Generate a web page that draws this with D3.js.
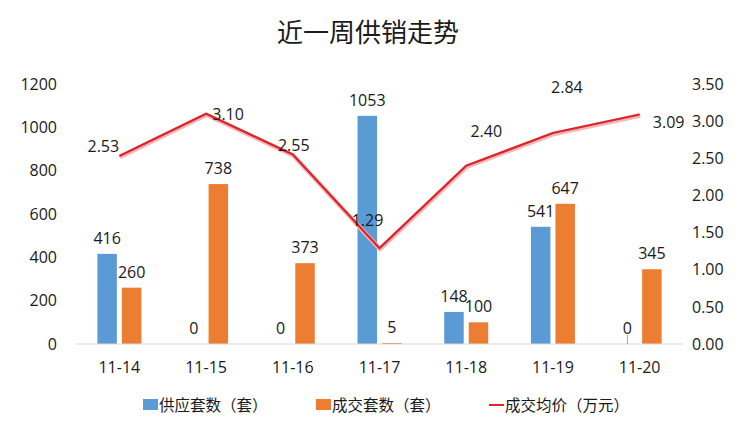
<!DOCTYPE html>
<html lang="zh">
<head>
    <meta charset="UTF-8">
    <title>近一周供销走势</title>
    <style>
        body {
            margin: 0;
            padding: 0;
            background: #ffffff;
        }
        svg text {
            font-family: "Open Sans", "Noto Sans CJK SC", sans-serif;
            fill: #1a1a1a;
        }
        svg text.cjk {
            font-family: "Noto Sans CJK SC", sans-serif;
        }
    </style>
</head>
<body>
    <svg id="chart" width="740" height="426"></svg>

    <script src="https://d3js.org/d3.v7.min.js"></script>
    <script>
        // data
        var dates = ['11-14', '11-15', '11-16', '11-17', '11-18', '11-19', '11-20'];
        var supply = [416, 0, 0, 1053, 148, 541, 0];       // 供应套数（套）
        var deals = [260, 738, 373, 5, 100, 647, 345];     // 成交套数（套）
        var price = [2.53, 3.10, 2.55, 1.29, 2.40, 2.84, 3.09]; // 成交均价（万元）
        var leftTicks = [0, 200, 400, 600, 800, 1000, 1200];
        var rightTicks = [0, 0.5, 1, 1.5, 2, 2.5, 3, 3.5];

        // price labels were moved around by hand in the original
        var priceLabelShift = [[-16, -10], [22, 1], [1, -9], [-12, -28], [20, -34], [14, -46], [29, 8]];

        var svg = d3.select('#chart');
        var plot = { left: 76, right: 683, top: 84, bottom: 344 };

        var x = d3.scaleBand()
            .domain(dates)
            .range([plot.left, plot.right]);

        var yLeft = d3.scaleLinear()
            .domain([0, 1200])
            .range([plot.bottom, plot.top]);

        var yRight = d3.scaleLinear()
            .domain([0, 3.5])
            .range([plot.bottom, plot.top]);

        var barW = 19.5, gap = 5;
        var blue = '#5b9bd5', orange = '#ed7d31', red = '#dc2328';

        // title
        svg.append('text')
            .attr('class', 'cjk')
            .attr('x', 368)
            .attr('y', 42)
            .attr('text-anchor', 'middle')
            .style('font-size', '26px')
            .text('近一周供销走势');

        // left axis labels
        svg.append('g')
            .selectAll('text')
            .data(leftTicks)
            .join('text')
            .attr('x', 57)
            .attr('y', d => yLeft(d))
            .attr('dy', '0.36em')
            .attr('text-anchor', 'end')
            .style('font-size', '16px')
            .text(d => d);

        // right axis labels
        svg.append('g')
            .selectAll('text')
            .data(rightTicks)
            .join('text')
            .attr('x', 692)
            .attr('y', d => yRight(d))
            .attr('dy', '0.36em')
            .style('font-size', '16px')
            .text(d => d.toFixed(2));

        // bars
        svg.append('g')
            .selectAll('rect')
            .data(supply)
            .join('rect')
            .attr('x', (d, i) => x(dates[i]) + x.bandwidth() / 2 - gap / 2 - barW)
            .attr('y', d => yLeft(d))
            .attr('width', barW)
            .attr('height', d => plot.bottom - yLeft(d))
            .attr('fill', blue);

        svg.append('g')
            .selectAll('rect')
            .data(deals)
            .join('rect')
            .attr('x', (d, i) => x(dates[i]) + x.bandwidth() / 2 + gap / 2)
            .attr('y', d => yLeft(d))
            .attr('width', barW)
            .attr('height', d => plot.bottom - yLeft(d))
            .attr('fill', orange);

        // baseline
        svg.append('line')
            .attr('x1', plot.left)
            .attr('x2', plot.right)
            .attr('y1', plot.bottom)
            .attr('y2', plot.bottom)
            .attr('stroke', '#d9d9d9')
            .attr('stroke-width', 1);

        // x labels
        svg.append('g')
            .selectAll('text')
            .data(dates)
            .join('text')
            .attr('x', d => x(d) + x.bandwidth() / 2)
            .attr('y', 373)
            .attr('text-anchor', 'middle')
            .style('font-size', '16px')
            .text(d => d);

        // bar labels
        svg.append('g')
            .selectAll('text')
            .data(supply)
            .join('text')
            .attr('x', (d, i) => x(dates[i]) + x.bandwidth() / 2 - gap / 2 - barW / 2)
            .attr('y', d => yLeft(d) - 10)
            .attr('text-anchor', 'middle')
            .style('font-size', '16px')
            .text(d => d);

        svg.append('g')
            .selectAll('text')
            .data(deals)
            .join('text')
            .attr('x', (d, i) => x(dates[i]) + x.bandwidth() / 2 + gap / 2 + barW / 2)
            .attr('y', d => yLeft(d) - 10)
            .attr('text-anchor', 'middle')
            .style('font-size', '16px')
            .text(d => d);

        // small leader line under the last zero label
        svg.append('line')
            .attr('x1', x(dates[6]) + x.bandwidth() / 2 - gap / 2 - barW / 2)
            .attr('x2', x(dates[6]) + x.bandwidth() / 2 - gap / 2 - barW / 2)
            .attr('y1', yLeft(0) - 9)
            .attr('y2', yLeft(0))
            .attr('stroke', '#a6a6a6')
            .attr('stroke-width', 1);

        // price line
        var line = d3.line()
            .x((d, i) => x(dates[i]) + x.bandwidth() / 2)
            .y(d => yRight(d));

        svg.append('path')
            .datum(price)
            .attr('d', line)
            .attr('fill', 'none')
            .attr('stroke', '#f4b6b8')
            .attr('stroke-width', 4.5)
            .attr('stroke-linejoin', 'round')
            .attr('transform', 'translate(0.5,1)');

        svg.append('path')
            .datum(price)
            .attr('d', line)
            .attr('fill', 'none')
            .attr('stroke', red)
            .attr('stroke-width', 2.2)
            .attr('stroke-linejoin', 'round');

        svg.append('g')
            .selectAll('text')
            .data(price)
            .join('text')
            .attr('x', (d, i) => x(dates[i]) + x.bandwidth() / 2 + priceLabelShift[i][0])
            .attr('y', (d, i) => yRight(d) + priceLabelShift[i][1])
            .attr('dy', '0.36em')
            .attr('text-anchor', 'middle')
            .style('font-size', '16px')
            .text(d => d.toFixed(2));

        // legend
        var legend = svg.append('g').attr('transform', 'translate(0,405)');
        var items = [
            { name: '供应套数（套）', color: blue, type: 'rect', x: 143 },
            { name: '成交套数（套）', color: orange, type: 'rect', x: 316 },
            { name: '成交均价（万元）', color: red, type: 'line', x: 489 }
        ];

        items.forEach(function(it) {
            if (it.type === 'rect') {
                legend.append('rect')
                    .attr('x', it.x)
                    .attr('y', -6)
                    .attr('width', 15)
                    .attr('height', 11)
                    .attr('fill', it.color);
            } else {
                legend.append('line')
                    .attr('x1', it.x)
                    .attr('x2', it.x + 15)
                    .attr('y1', 0)
                    .attr('y2', 0)
                    .attr('stroke', it.color)
                    .attr('stroke-width', 2);
            }
            legend.append('text')
                .attr('class', 'cjk')
                .attr('x', it.x + 16)
                .attr('y', 0)
                .attr('dy', '0.36em')
                .style('font-size', '15.5px')
                .text(it.name);
        });
    </script>
</body>
</html>
